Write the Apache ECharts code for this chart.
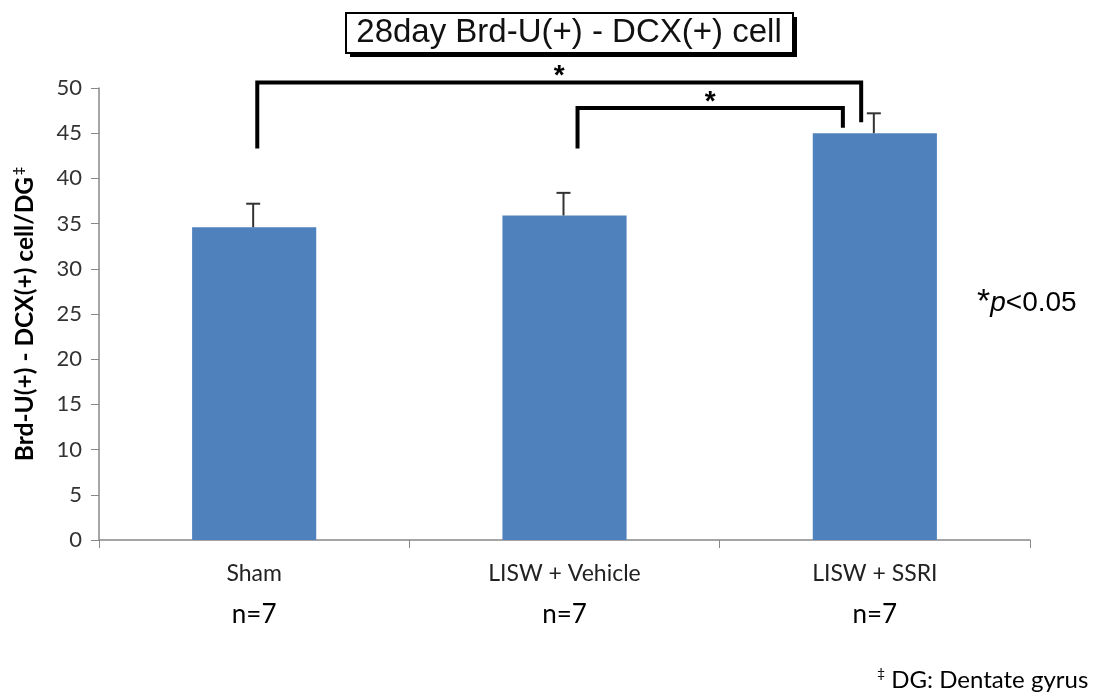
<!DOCTYPE html>
<html><head><meta charset="utf-8">
<script src="https://cdn.jsdelivr.net/npm/echarts@6/dist/echarts.min.js"></script>
<style>html,body{margin:0;padding:0;background:#fff}#c{width:1096px;height:697px}</style>
</head><body><div id="c"></div>
<script>
const titleText = '28day Brd-U(+) - DCX(+) cell';
const yAxisName = 'Brd-U(+) - DCX(+) cell/DG';
const categories = ['Sham', 'LISW + Vehicle', 'LISW + SSRI'];
const sampleSizes = ['n=7', 'n=7', 'n=7'];
const means = [34.6, 35.9, 45.0];
const upperErrors = [37.2, 38.4, 47.2];
// brackets: [xLeft, xRight, yTop, yLeftEnd, yRightEnd] in category-index / value units
const brackets = [
  [0.01, 1.956, 50.6, 43.3, 46.2],
  [1.042, 1.897, 47.8, 43.3, 45.6]
];
const bracketLabels = ['*', '*'];
const footnote = 'DG: Dentate gyrus';

const chart = echarts.init(document.getElementById('c'), null, {renderer: 'canvas'});
const calib = 'Lato, "Open Sans", sans-serif';
const arial = '"Liberation Sans", Arial, sans-serif';

const option = {
  backgroundColor: '#fff',
  animation: false,
  grid: {left: 99, right: 66, top: 88, bottom: 157, containLabel: false},
  xAxis: [{
    type: 'category',
    data: categories,
    boundaryGap: true,
    axisLine: {onZero: false, lineStyle: {color: '#888', width: 1.5}},
    axisTick: {show: true, length: 8, lineStyle: {color: '#888'}},
    axisLabel: {
      margin: 20,
      formatter: (v, i) => '{c|' + v + '}\n{n|' + sampleSizes[i] + '}',
      rich: {
        c: {fontFamily: calib, fontSize: 23, color: '#222', lineHeight: 28},
        n: {fontFamily: calib, fontSize: 26, color: '#000', lineHeight: 40, verticalAlign: 'bottom'}
      }
    }
  }, {
    type: 'value', min: -0.5, max: 2.5, show: false
  }],
  yAxis: {
    type: 'value', min: 0, max: 50, interval: 5,
    axisLine: {show: true, onZero: false, lineStyle: {color: '#888', width: 1.5}},
    axisTick: {show: true, length: 8, lineStyle: {color: '#888'}},
    splitLine: {show: false},
    axisLabel: {fontFamily: calib, fontSize: 22, color: '#333', margin: 17},
    name: '{b|' + yAxisName + '}{s|‡}',
    nameLocation: 'middle',
    nameGap: 60,
    nameRotate: 90,
    nameTextStyle: {
      rich: {
        b: {fontFamily: calib, fontSize: 24.5, fontWeight: 'bold', color: '#000'},
        s: {fontFamily: calib, fontSize: 14, fontWeight: 'bold', color: '#000', verticalAlign: 'top', padding: [0, 0, 14, 2]}
      }
    }
  },
  series: [{
    type: 'bar',
    data: means,
    barWidth: '40%',
    itemStyle: {color: '#4F81BD'}
  }, {
    type: 'custom',
    xAxisIndex: 0,
    data: categories.map((c, i) => [i, means[i], upperErrors[i]]),
    renderItem: (params, api) => {
      const p0 = api.coord([api.value(0), api.value(1)]);
      const p1 = api.coord([api.value(0), api.value(2)]);
      const x = p0[0] - 1;
      return {type: 'group', children: [
        {type: 'line', shape: {x1: x, y1: p0[1], x2: x, y2: p1[1]}, style: {stroke: '#333', lineWidth: 2}},
        {type: 'line', shape: {x1: x - 7, y1: p1[1], x2: x + 7, y2: p1[1]}, style: {stroke: '#333', lineWidth: 2}}
      ]};
    },
    z: 5
  }, {
    type: 'custom',
    xAxisIndex: 1,
    clip: false,
    data: brackets,
    renderItem: (params, api) => {
      const xl = api.value(0), xr = api.value(1), yt = api.value(2), yl = api.value(3), yr = api.value(4);
      const p1 = api.coord([xl, yl]), p2 = api.coord([xl, yt]), p3 = api.coord([xr, yt]), p4 = api.coord([xr, yr]);
      return {type: 'group', children: [
        {type: 'polyline', shape: {points: [p1, p2, p3, p4]}, style: {stroke: '#000', lineWidth: 4, fill: null, lineJoin: 'miter'}},
        {type: 'text', x: (p2[0] + p3[0]) / 2, y: p2[1] + 8,
          style: {text: bracketLabels[params.dataIndex], fontFamily: arial, fontSize: 28, fontWeight: 'bold', fill: '#000', align: 'center', verticalAlign: 'bottom'}}
      ]};
    },
    z: 6
  }],
  graphic: [
    {type: 'rect', left: 350, top: 17, shape: {width: 447, height: 40}, style: {fill: '#000'}, z: 10},
    {type: 'rect', left: 345, top: 12, shape: {width: 447, height: 40}, style: {fill: '#fff', stroke: '#000', lineWidth: 2}, z: 11},
    {type: 'text', x: 569, y: 33, z: 12, style: {text: titleText, fontFamily: arial, fontSize: 33, fill: '#111', align: 'center', verticalAlign: 'middle'}},
    {type: 'text', x: 977, y: 303, z: 12, style: {
      text: '{a|*}{p|p}{t|<0.05}', align: 'left', verticalAlign: 'middle',
      rich: {
        a: {fontFamily: arial, fontSize: 34, fill: '#000', verticalAlign: 'top'},
        p: {fontFamily: arial, fontSize: 28, fontStyle: 'italic', fill: '#000'},
        t: {fontFamily: arial, fontSize: 28, fill: '#000'}
      }}},
    {type: 'text', x: 877, y: 680, z: 12, style: {
      text: '{s|‡}{t| ' + footnote + '}', align: 'left', verticalAlign: 'middle',
      rich: {
        s: {fontFamily: calib, fontSize: 14, fill: '#000', verticalAlign: 'top', padding: [0, 0, 14, 0]},
        t: {fontFamily: calib, fontSize: 24, fill: '#000'}
      }}}
  ]
};
chart.setOption(option);
</script>
</body></html>
